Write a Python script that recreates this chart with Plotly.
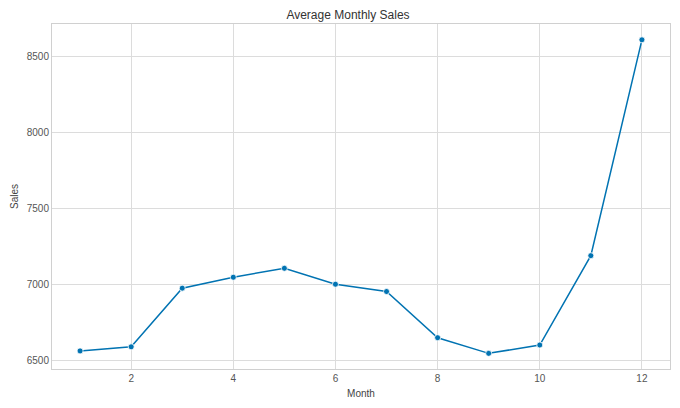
import plotly.graph_objects as go

# Average sales per month
months = [1, 2, 3, 4, 5, 6, 7, 8, 9, 10, 11, 12]
sales = [6561, 6588, 6974, 7046, 7105, 7000, 6952, 6648, 6545, 6600, 7188, 8609]

x_ticks = [2, 4, 6, 8, 10, 12]
y_ticks = [6500, 7000, 7500, 8000, 8500]

fig = go.Figure()

fig.add_trace(go.Scatter(
    x=months, y=sales, mode='lines+markers',
    line=dict(color='#0173b2', width=1.5),
    marker=dict(color='#0173b2', size=6, line=dict(color='white', width=0.8)),
    showlegend=False,
))

axis_style = dict(
    showgrid=True, gridcolor='#dcdcdc', gridwidth=1,
    showline=True, linecolor='#d0d0d0', linewidth=1, mirror=True,
    zeroline=False, ticks='', automargin=False,
    tickfont=dict(size=10, color='#555555'),
    title_font=dict(size=10, color='#444444'),
)

# the page body adds an 8px offset, so margins are shifted to compensate
fig.update_layout(
    width=680, height=408,
    title=dict(text='Average Monthly Sales', x=0.5, xanchor='center', y=0.983, yanchor='middle',
               font=dict(size=12, color='#333333')),
    font=dict(family='Liberation Sans, Arial, sans-serif'),
    plot_bgcolor='white', paper_bgcolor='white',
    margin=dict(l=44, r=18, t=16, b=47),
    xaxis=dict(range=[0.45, 12.55], tickvals=x_ticks, title=dict(text='Month', standoff=6), **axis_style),
    yaxis=dict(range=[6442, 8713], tickvals=y_ticks, title=dict(text='Sales', standoff=6), **axis_style),
)

fig.write_html("out.html")
